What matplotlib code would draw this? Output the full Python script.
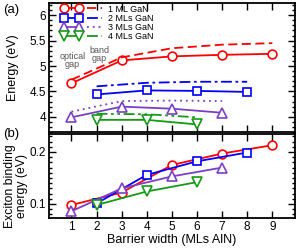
import matplotlib
matplotlib.use("Agg")
import matplotlib.pyplot as plt
from matplotlib.ticker import MultipleLocator

plt.rcParams['font.family'] = ['Liberation Sans', 'DejaVu Sans']

# ---- data ----
x_1ml = [1, 3, 5, 7, 9]
x_2ml = [2, 4, 6, 8]
x_3ml = [1, 3, 5, 7]
x_4ml = [2, 4, 6]

opt_1ml = [4.66, 5.11, 5.19, 5.22, 5.24]
opt_2ml = [4.44, 4.52, 4.51, 4.49]
opt_3ml = [3.99, 4.20, 4.16, 4.08]
opt_4ml = [3.94, 3.94, 3.85]

band_1ml = [4.73, 5.17, 5.35, 5.42, 5.45]
band_2ml = [4.60, 4.67, 4.69, 4.69]
band_3ml = [4.10, 4.31, 4.32, 4.31]
band_4ml = [4.06, 4.05, 3.99]

eb_1ml = [0.098, 0.122, 0.175, 0.197, 0.213]
eb_2ml = [0.101, 0.156, 0.182, 0.199]
eb_3ml = [0.086, 0.130, 0.153, 0.170]
eb_4ml = [0.098, 0.124, 0.142]

labels = ['1 ML GaN', '2 MLs GaN', '3 MLs GaN', '4 MLs GaN']
xticks = [1, 2, 3, 4, 5, 6, 7, 8, 9]

colors = ['#ff0000', '#0000ff', '#7b3fc4', '#149a14']
markers = ['o', 's', '^', 'v']
msizes = [6.3, 5.2, 6.8, 6.8]
dashes = [(0, (5, 2.5)), (0, (6, 2, 1.5, 2)), (0, (1, 2.2)), (0, (6, 2, 1.5, 2, 1.5, 2))]

xs = [x_1ml, x_2ml, x_3ml, x_4ml]
opts = [opt_1ml, opt_2ml, opt_3ml, opt_4ml]
bands = [band_1ml, band_2ml, band_3ml, band_4ml]
ebs = [eb_1ml, eb_2ml, eb_3ml, eb_4ml]

fig = plt.figure(figsize=(3.0, 2.52), dpi=100)
ax1 = fig.add_axes([0.163, 0.476, 0.82, 0.512])
ax2 = fig.add_axes([0.163, 0.135, 0.82, 0.332])

mh, lh = [], []
for i in range(4):
    m, = ax1.plot(xs[i], opts[i], color=colors[i], marker=markers[i], ms=msizes[i],
                  mfc='white', mec=colors[i], mew=1.2, lw=1.3)
    l, = ax1.plot(xs[i], bands[i], color=colors[i], lw=1.3, linestyle=dashes[i])
    ax2.plot(xs[i], ebs[i], color=colors[i], marker=markers[i], ms=msizes[i],
             mfc='white', mec=colors[i], mew=1.2, lw=1.3)
    mh.append(m)
    lh.append(l)

for ax in (ax1, ax2):
    ax.set_xlim(0.1, 9.9)
    ax.set_xticks(xticks)
    ax.tick_params(which='both', direction='in', top=True, right=True, width=1.0, labelsize=8.5)
    ax.tick_params(which='major', length=5, pad=2)
    ax.tick_params(which='minor', length=2.5)
    for s in ax.spines.values():
        s.set_linewidth(1.3)

ax1.set_ylim(3.7, 6.24)
ax1.yaxis.set_minor_locator(MultipleLocator(0.1))
ax1.set_yticks([4, 4.5, 5, 5.5, 6])
ax1.set_yticklabels(['4', '4.5', '5', '5.5', '6'])
ax1.tick_params(axis='x', labelbottom=False)
ax1.set_ylabel('Energy (eV)', fontsize=9)
ax1.yaxis.set_label_coords(-0.12, 0.5)

ax2.set_ylim(0.073, 0.234)
ax2.set_yticks([0.1, 0.2])
ax2.yaxis.set_minor_locator(MultipleLocator(0.01))
ax2.set_xticklabels([str(v) for v in xticks])
ax2.set_xlabel('Barrier width (MLs AlN)', fontsize=9, labelpad=1)
ax2.set_ylabel('Exciton binding\nenergy (eV)', fontsize=8.8, linespacing=1.05)
ax2.yaxis.set_label_coords(-0.085, 0.38)

leg = ax1.legend(mh + lh, [''] * 4 + labels, ncol=2, numpoints=2, frameon=False,
                 loc='upper left', bbox_to_anchor=(0.03, 1.03), fontsize=6.5,
                 handlelength=2.2, handletextpad=0.35, columnspacing=0.0,
                 labelspacing=0.02, borderaxespad=0.2)

ax1.text(0.095, 0.555, 'optical\ngap', transform=ax1.transAxes, fontsize=6.5,
         color='#555555', ha='center', va='center', linespacing=0.95)
ax1.text(0.205, 0.6, 'band\ngap', transform=ax1.transAxes, fontsize=6.5,
         color='#555555', ha='center', va='center', linespacing=0.95)

fig.text(0.01, 0.96, '(a)', fontsize=9.5, va='center')
fig.text(0.01, 0.47, '(b)', fontsize=9.5, va='center')

fig.savefig('out.png', dpi=100)
